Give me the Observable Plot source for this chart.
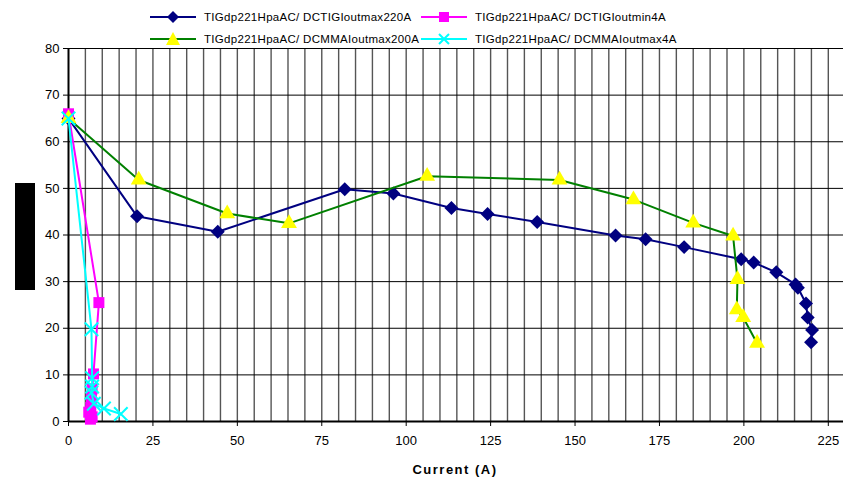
<!DOCTYPE html>
<html>
<head>
<meta charset="utf-8">
<script src="https://cdn.jsdelivr.net/npm/d3@7"></script>
<script src="https://cdn.jsdelivr.net/npm/@observablehq/plot@0.6"></script>
<style>
  html, body { margin: 0; padding: 0; background: #fff; }
  #wrap { position: relative; width: 843px; height: 481px; font-family: "Liberation Sans", Arial, sans-serif; }
  #chart { position: absolute; left: 0; top: 0; }
  .leg { position: absolute; font-size: 11.5px; letter-spacing: 0.3px; color: #000; white-space: nowrap; display: flex; align-items: center; }
  .leg svg { margin-right: 8px; }
  #ylab { position: absolute; left: 15px; top: 183px; width: 20px; height: 107px; background: #000; }
  #xlab { position: absolute; left: 0; width: 910px; top: 462px; text-align: center; font-weight: bold; font-size: 13px; letter-spacing: 1.5px; }
</style>
</head>
<body>
<div id="wrap">
  <div id="chart"></div>
  <div id="ylab"></div>
  <div id="xlab">Current (A)</div>
</div>
<script>
// Series names
const seriesNames = [
  "TIGdp221HpaAC/ DCTIGIoutmax220A",
  "TIGdp221HpaAC/ DCTIGIoutmin4A",
  "TIGdp221HpaAC/ DCMMAIoutmax200A",
  "TIGdp221HpaAC/ DCMMAIoutmax4A"
];

// TIG max 220A (navy diamonds)
const tigMaxX = [0, 20.3, 44.2, 81.8, 96.2, 113.4, 124.1, 138.8, 162.0, 170.9, 182.3, 199.2, 202.9, 209.6, 215.3, 216.0, 218.4, 218.9, 220.2, 219.9];
const tigMaxY = [65, 44.0, 40.7, 49.8, 48.9, 45.8, 44.5, 42.8, 39.9, 39.1, 37.4, 34.8, 34.1, 32.0, 29.4, 28.7, 25.3, 22.3, 19.6, 17.0];

// TIG min 4A (magenta squares)
const tigMinX = [0, 9.0, 7.4, 7.0, 6.8, 6.6, 6.0, 7.0, 6.5];
const tigMinY = [66, 25.5, 10.2, 7.0, 5.0, 3.0, 2.0, 1.0, 0.5];

// MMA max 200A (green line, yellow triangles)
const mmaMaxX = [0, 20.8, 47.0, 65.3, 106.2, 145.4, 167.3, 185.0, 196.8, 198.1, 197.9, 199.8, 203.9];
const mmaMaxY = [65, 51.8, 44.6, 42.5, 52.6, 51.8, 47.6, 42.6, 39.8, 30.5, 24.0, 22.3, 16.8];

// MMA max 4A (cyan crosses)
const mmaMinX = [0, 6.8, 7.0, 7.0, 6.8, 7.5, 10.5, 15.5];
const mmaMinY = [65, 19.8, 9.3, 7.5, 6.2, 3.8, 2.8, 1.6];

const xTicks = [0, 25, 50, 75, 100, 125, 150, 175, 200, 225];
const yTicks = [0, 10, 20, 30, 40, 50, 60, 70, 80];
const xGrid = d3.range(5, 230, 5);
const yGrid = [10, 20, 30, 40, 50, 60, 70, 80];

const toRows = (xs, ys) => xs.map((x, i) => ({x, y: ys[i]}));
const tigMax = toRows(tigMaxX, tigMaxY);
const tigMin = toRows(tigMinX, tigMinY);
const mmaMax = toRows(mmaMaxX, mmaMaxY);
const mmaMin = toRows(mmaMinX, mmaMinY);

const NAVY = "#000080", MAG = "#FF00FF", GREEN = "#008000", YEL = "#FFFF00", CYAN = "#00FFFF";

const chart = Plot.plot({
  width: 843,
  height: 481,
  marginLeft: 68,
  marginRight: 0,
  marginTop: 48,
  marginBottom: 60,
  style: {fontFamily: "Liberation Sans, Arial, sans-serif", fontSize: "13px", background: "#fff", overflow: "visible"},
  x: {domain: [0, 229.5]},
  y: {domain: [0, 80]},
  marks: [
    Plot.ruleX(xGrid, {stroke: "#555", strokeWidth: 1.4}),
    Plot.ruleY(yGrid, {stroke: "#000", strokeWidth: 1}),
    Plot.axisX({ticks: xTicks, tickSize: 5, tickPadding: 9, label: null, fontSize: 13}),
    Plot.axisY({ticks: yTicks, tickSize: 5, tickPadding: 4, label: null, fontSize: 13}),
    Plot.ruleX([0], {stroke: "#000", strokeWidth: 2}),
    Plot.ruleY([0], {stroke: "#000", strokeWidth: 2}),
    Plot.line(tigMax, {x: "x", y: "y", stroke: NAVY, strokeWidth: 2}),
    Plot.dot(tigMax, {x: "x", y: "y", symbol: "diamond2", r: 6.3, fill: NAVY, stroke: "none"}),
    Plot.line(tigMin, {x: "x", y: "y", stroke: MAG, strokeWidth: 2}),
    Plot.dot(tigMin, {x: "x", y: "y", symbol: "square", r: 6.2, fill: MAG, stroke: "none"}),
    Plot.line(mmaMax, {x: "x", y: "y", stroke: GREEN, strokeWidth: 2}),
    Plot.dot(mmaMax, {x: "x", y: "y", symbol: "triangle", r: 5.9, fill: YEL, stroke: "none"}),
    Plot.line(mmaMin, {x: "x", y: "y", stroke: CYAN, strokeWidth: 2}),
    Plot.dot(mmaMin, {x: "x", y: "y", symbol: "times", r: 6.2, stroke: CYAN, strokeWidth: 2})
  ]
});
document.getElementById("chart").appendChild(chart);

// Legend
const legendItems = [
  {name: seriesNames[0], color: NAVY, marker: "diamond", left: 150, top: 17},
  {name: seriesNames[1], color: MAG, marker: "square", left: 421, top: 17},
  {name: seriesNames[2], color: GREEN, marker: "triangle", left: 150, top: 39},
  {name: seriesNames[3], color: CYAN, marker: "times", left: 421, top: 39}
];
function markerSvg(m, c) {
  const line = `<line x1="0" y1="7" x2="46" y2="7" stroke="${c}" stroke-width="2"/>`;
  let mk = "";
  if (m === "diamond") mk = `<path d="M23,1 L29,7 L23,13 L17,7Z" fill="${c}"/>`;
  if (m === "square") mk = `<rect x="18" y="2" width="10" height="10" fill="${c}"/>`;
  if (m === "triangle") mk = `<path d="M23,0 L30,13 L16,13Z" fill="${YEL}"/>`;
  if (m === "times") mk = `<path d="M18,2 L28,12 M28,2 L18,12" stroke="${c}" stroke-width="2"/>`;
  return `<svg width="46" height="14">${line}${mk}</svg>`;
}
const wrap = document.getElementById("wrap");
legendItems.forEach(it => {
  const d = document.createElement("div");
  d.className = "leg";
  d.style.left = it.left + "px";
  d.style.top = (it.top - 7) + "px";
  d.innerHTML = markerSvg(it.marker, it.color) + `<span>${it.name}</span>`;
  wrap.appendChild(d);
});
</script>
</body>
</html>
